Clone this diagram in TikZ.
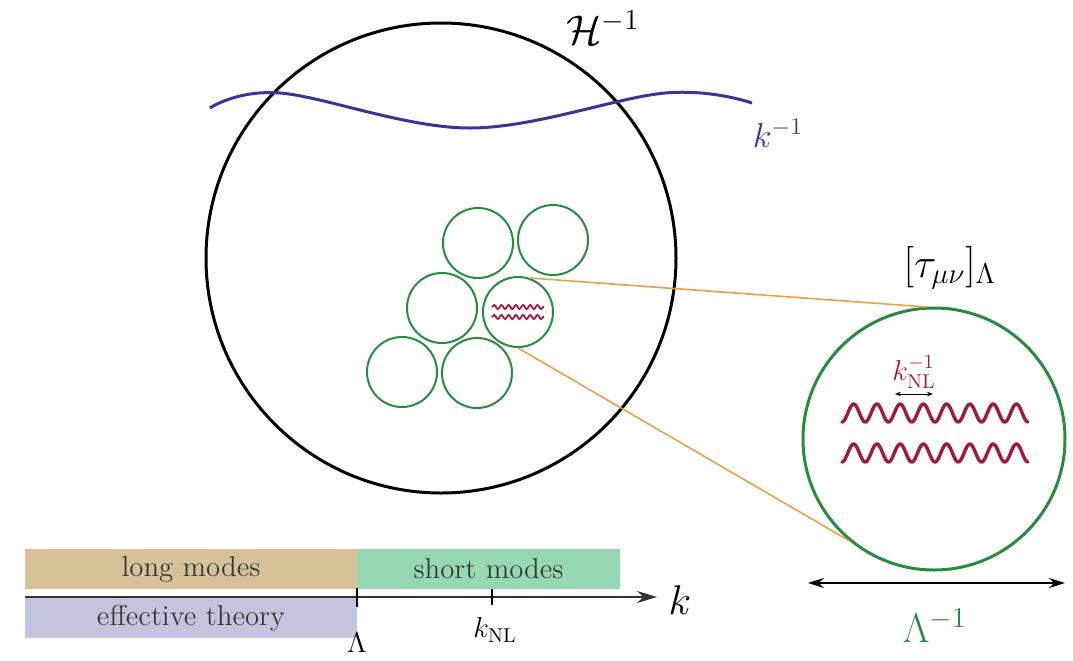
\documentclass[tikz,border=0pt]{standalone}
\usepackage{amsmath,amssymb}
\usetikzlibrary{arrows.meta,positioning,calc,decorations.pathmorphing}
\definecolor{tanbox}{RGB}{214,193,153}
\definecolor{mintbox}{RGB}{150,216,180}
\definecolor{lavbox}{RGB}{196,196,222}
\definecolor{wavered}{RGB}{158,28,58}
\definecolor{waveblue}{RGB}{55,55,150}
\definecolor{cellgreen}{RGB}{40,140,64}
\definecolor{beamorange}{RGB}{234,160,72}

\begin{document}
\begin{tikzpicture}[x=0.5pt, y=-0.5pt, >=Stealth,
  cell/.style={circle, draw=cellgreen, line width=1pt, minimum size=35pt, inner sep=0pt},
  band/.style={minimum height=20pt, inner sep=0pt, text=black!78, font=\Large},
  beam/.style={beamorange, line width=0.8pt},
  wig/.style={draw=wavered, line width=1.7pt, line cap=round, line join=round},
  minwig/.style={decorate, decoration={snake, amplitude=1pt, segment length=3.6pt}, draw=wavered, line width=0.9pt}]
\useasboundingbox (0,0) rectangle (1073,660);

% horizon and long mode
\node[circle, draw, line width=1.5pt, minimum size=235pt] (hub) at (441,258) {};
\node (H) at (603,28) {\huge $\mathcal{H}^{-1}$};
\draw[waveblue, line width=1.5pt] plot[smooth, tension=0.6] coordinates {(210,108) (280,93) (470,128) (665,93) (752,103)};
\node[waveblue] (kinv) at (778,133) {\LARGE $k^{-1}$};

% patches of size Lambda^{-1}
\node[circle, draw=cellgreen, line width=1.5pt, minimum size=131pt] (zoom) at (934,439) {};
\node[cell] (c1) at (478,243) {};
\node[cell] (c2) at (553,240) {};
\node[cell] (c3) at (442,308) {};
\node[cell] (c4) at (518,312) {};
\node[cell] (c5) at (402,372) {};
\node[cell] (c6) at (477,373) {};
\draw[beam] (c4.71) -- (zoom.94);
\draw[beam] (c4.270) -- (zoom.230);
\draw[minwig] ($(c4.center)+(-26,-5)$) -- ($(c4.center)+(26,-5)$);
\draw[minwig] ($(c4.center)+(-26,5)$) -- ($(c4.center)+(26,5)$);
\node (tau) at (950,268) {\huge $[\tau_{\mu\nu}]_\Lambda$};

% inside the zoomed patch
\draw[wig] plot[domain=0:1, samples=200] ({842+186*\x}, {413+9*cos(8*360*\x)});
\draw[wig] plot[domain=0:1, samples=200] ({842+186*\x}, {453+9*cos(8*360*\x)});
\node[wavered] (knlinv) at (914,372) {\Large $k_{\mathrm{NL}}^{-1}$};
\coordinate (w0) at (895,394);
\coordinate (w1) at (933,394);
\draw[{Stealth[length=3pt]}-{Stealth[length=3pt]}, line width=0.5pt] (w0) -- (w1);
\coordinate (L0) at (808,583);
\coordinate (L1) at (1065,583);
\draw[{Stealth[length=8pt,width=5pt]}-{Stealth[length=8pt,width=5pt]}, line width=0.9pt] (L0) -- (L1);
\node[cellgreen] (linv) at (935,626) {\huge $\Lambda^{-1}$};

% scales along k
\node[band, fill=tanbox, minimum width=166pt] (long) at (191,569) {long modes};
\node[band, fill=mintbox, minimum width=131.5pt] (short) at (488.5,569) {short modes};
\node[band, fill=lavbox, minimum width=166pt] (eft) at (191,618) {effective theory};
\coordinate (a0) at (25,597);
\coordinate (a1) at (657,597);
\draw[-{Stealth[length=10pt,width=6pt]}, line width=1pt, black!80] (a0) -- (a1);
\node (k) at (680,600) {\huge $k$};
\draw[line width=0.8pt] (357,588) -- (357,607);
\draw[line width=0.6pt] (492,589) -- (492,605);
\node (lam) at (357,643) {\Large $\Lambda$};
\node (knl) at (495,630) {\Large $k_{\mathrm{NL}}$};
\end{tikzpicture}
\end{document}
